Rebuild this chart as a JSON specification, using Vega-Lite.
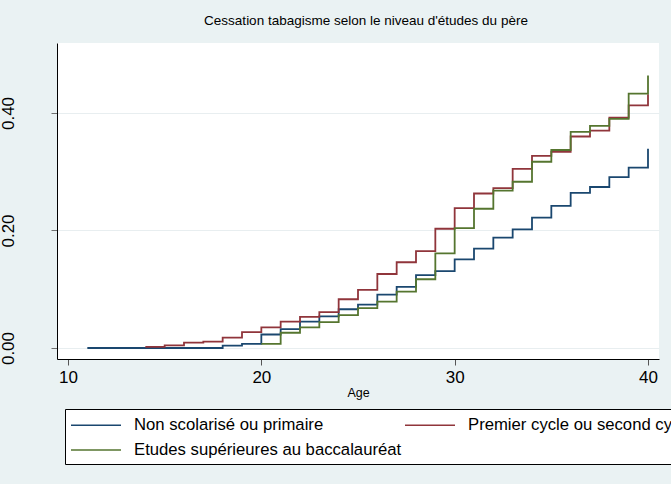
{
  "$schema": "https://vega.github.io/schema/vega-lite/v6.json",
  "width": 602,
  "height": 316,
  "autosize": {"type": "none"},
  "padding": {"left": 57, "top": 43, "right": 12, "bottom": 125},
  "background": "#eaf2f3",
  "config": {"view": {"stroke": null, "fill": "white"}, "font": "Liberation Sans"},
  "title": {"text": "Cessation tabagisme selon le niveau d'études du père", "fontSize": 13.5, "fontWeight": "normal", "color": "#000000", "anchor": "middle", "frame": "group", "offset": 5, "baseline": "alphabetic", "dx": 8},
  "data": {"values": [
    {"serie": "Non scolarisé ou primaire", "age": 11, "p": 0},
    {"serie": "Non scolarisé ou primaire", "age": 18, "p": 0.004},
    {"serie": "Non scolarisé ou primaire", "age": 19, "p": 0.007},
    {"serie": "Non scolarisé ou primaire", "age": 20, "p": 0.023},
    {"serie": "Non scolarisé ou primaire", "age": 21, "p": 0.032},
    {"serie": "Non scolarisé ou primaire", "age": 22, "p": 0.045},
    {"serie": "Non scolarisé ou primaire", "age": 23, "p": 0.054},
    {"serie": "Non scolarisé ou primaire", "age": 24, "p": 0.066},
    {"serie": "Non scolarisé ou primaire", "age": 25, "p": 0.074},
    {"serie": "Non scolarisé ou primaire", "age": 26, "p": 0.091},
    {"serie": "Non scolarisé ou primaire", "age": 27, "p": 0.104},
    {"serie": "Non scolarisé ou primaire", "age": 28, "p": 0.124},
    {"serie": "Non scolarisé ou primaire", "age": 29, "p": 0.131},
    {"serie": "Non scolarisé ou primaire", "age": 30, "p": 0.151},
    {"serie": "Non scolarisé ou primaire", "age": 31, "p": 0.169},
    {"serie": "Non scolarisé ou primaire", "age": 32, "p": 0.188},
    {"serie": "Non scolarisé ou primaire", "age": 33, "p": 0.202},
    {"serie": "Non scolarisé ou primaire", "age": 34, "p": 0.222},
    {"serie": "Non scolarisé ou primaire", "age": 35, "p": 0.242},
    {"serie": "Non scolarisé ou primaire", "age": 36, "p": 0.264},
    {"serie": "Non scolarisé ou primaire", "age": 37, "p": 0.274},
    {"serie": "Non scolarisé ou primaire", "age": 38, "p": 0.291},
    {"serie": "Non scolarisé ou primaire", "age": 39, "p": 0.307},
    {"serie": "Non scolarisé ou primaire", "age": 40, "p": 0.339},
    {"serie": "Premier cycle ou second cycle", "age": 14, "p": 0.002},
    {"serie": "Premier cycle ou second cycle", "age": 15, "p": 0.0046},
    {"serie": "Premier cycle ou second cycle", "age": 16, "p": 0.009},
    {"serie": "Premier cycle ou second cycle", "age": 17, "p": 0.011},
    {"serie": "Premier cycle ou second cycle", "age": 18, "p": 0.0176},
    {"serie": "Premier cycle ou second cycle", "age": 19, "p": 0.027},
    {"serie": "Premier cycle ou second cycle", "age": 20, "p": 0.035},
    {"serie": "Premier cycle ou second cycle", "age": 21, "p": 0.045},
    {"serie": "Premier cycle ou second cycle", "age": 22, "p": 0.053},
    {"serie": "Premier cycle ou second cycle", "age": 23, "p": 0.061},
    {"serie": "Premier cycle ou second cycle", "age": 24, "p": 0.083},
    {"serie": "Premier cycle ou second cycle", "age": 25, "p": 0.099},
    {"serie": "Premier cycle ou second cycle", "age": 26, "p": 0.126},
    {"serie": "Premier cycle ou second cycle", "age": 27, "p": 0.146},
    {"serie": "Premier cycle ou second cycle", "age": 28, "p": 0.165},
    {"serie": "Premier cycle ou second cycle", "age": 29, "p": 0.203},
    {"serie": "Premier cycle ou second cycle", "age": 30, "p": 0.238},
    {"serie": "Premier cycle ou second cycle", "age": 31, "p": 0.263},
    {"serie": "Premier cycle ou second cycle", "age": 32, "p": 0.272},
    {"serie": "Premier cycle ou second cycle", "age": 33, "p": 0.305},
    {"serie": "Premier cycle ou second cycle", "age": 34, "p": 0.327},
    {"serie": "Premier cycle ou second cycle", "age": 35, "p": 0.334},
    {"serie": "Premier cycle ou second cycle", "age": 36, "p": 0.360},
    {"serie": "Premier cycle ou second cycle", "age": 37, "p": 0.370},
    {"serie": "Premier cycle ou second cycle", "age": 38, "p": 0.392},
    {"serie": "Premier cycle ou second cycle", "age": 39, "p": 0.413},
    {"serie": "Premier cycle ou second cycle", "age": 40, "p": 0.432},
    {"serie": "Etudes supérieures au baccalauréat", "age": 20, "p": 0.007},
    {"serie": "Etudes supérieures au baccalauréat", "age": 21, "p": 0.026},
    {"serie": "Etudes supérieures au baccalauréat", "age": 22, "p": 0.035},
    {"serie": "Etudes supérieures au baccalauréat", "age": 23, "p": 0.044},
    {"serie": "Etudes supérieures au baccalauréat", "age": 24, "p": 0.056},
    {"serie": "Etudes supérieures au baccalauréat", "age": 25, "p": 0.068},
    {"serie": "Etudes supérieures au baccalauréat", "age": 26, "p": 0.079},
    {"serie": "Etudes supérieures au baccalauréat", "age": 27, "p": 0.096},
    {"serie": "Etudes supérieures au baccalauréat", "age": 28, "p": 0.117},
    {"serie": "Etudes supérieures au baccalauréat", "age": 29, "p": 0.161},
    {"serie": "Etudes supérieures au baccalauréat", "age": 30, "p": 0.204},
    {"serie": "Etudes supérieures au baccalauréat", "age": 31, "p": 0.237},
    {"serie": "Etudes supérieures au baccalauréat", "age": 32, "p": 0.268},
    {"serie": "Etudes supérieures au baccalauréat", "age": 33, "p": 0.283},
    {"serie": "Etudes supérieures au baccalauréat", "age": 34, "p": 0.317},
    {"serie": "Etudes supérieures au baccalauréat", "age": 35, "p": 0.337},
    {"serie": "Etudes supérieures au baccalauréat", "age": 36, "p": 0.368},
    {"serie": "Etudes supérieures au baccalauréat", "age": 37, "p": 0.378},
    {"serie": "Etudes supérieures au baccalauréat", "age": 38, "p": 0.390},
    {"serie": "Etudes supérieures au baccalauréat", "age": 39, "p": 0.433},
    {"serie": "Etudes supérieures au baccalauréat", "age": 40, "p": 0.464}
  ]},
  "encoding": {
    "x": {"field": "age", "type": "quantitative",
      "scale": {"domain": [9.431, 40.569], "nice": false, "zero": false},
      "axis": {"values": [10, 20, 30, 40], "title": "Age", "titleFontSize": 12.5, "titleFontWeight": "normal", "titleColor": "#000000", "titlePadding": 1, "labelFontSize": 17, "labelColor": "#000000", "labelPadding": 4, "tickSize": 6, "tickColor": "#555555", "domainColor": "#000000", "grid": false}},
    "y": {"field": "p", "type": "quantitative",
      "scale": {"domain": [-0.0187, 0.5191], "nice": false, "zero": false},
      "axis": {"values": [0, 0.2, 0.4], "format": ".2f", "title": null, "labelAngle": -90, "labelAlign": "center", "labelBaseline": "alphabetic", "labelPadding": 38, "labelFontSize": 17, "labelColor": "#000000", "tickSize": 6, "tickColor": "#707070", "domainColor": "#000000", "grid": true, "gridColor": "#e8eef0", "gridWidth": 1.2}},
    "color": {"field": "serie", "type": "nominal",
      "scale": {"domain": ["Non scolarisé ou primaire", "Premier cycle ou second cycle", "Etudes supérieures au baccalauréat"], "range": ["#1a476f", "#90353b", "#55752f"]},
      "legend": {"title": null, "orient": "none", "legendX": 8, "legendY": 366, "direction": "horizontal", "columns": 2, "gridAlign": "each", "columnPadding": 0, "rowPadding": 5, "padding": 5, "fillColor": "#ffffff", "strokeColor": "#000000", "symbolType": "M-1,0H4", "symbolSize": 400, "symbolStrokeWidth": 1.5, "symbolFillColor": "transparent", "labelFontSize": 16.7, "labelColor": "#000000", "labelOffset": 42, "labelLimit": 400}}
  },
  "layer": [
    {"transform": [{"filter": "datum.serie === 'Non scolarisé ou primaire'"}], "mark": {"type": "line", "interpolate": "step-after", "strokeWidth": 1.8}},
    {"transform": [{"filter": "datum.serie === 'Premier cycle ou second cycle'"}], "mark": {"type": "line", "interpolate": "step-after", "strokeWidth": 1.8}},
    {"transform": [{"filter": "datum.serie === 'Etudes supérieures au baccalauréat'"}], "mark": {"type": "line", "interpolate": "step-after", "strokeWidth": 1.8}}
  ]
}
